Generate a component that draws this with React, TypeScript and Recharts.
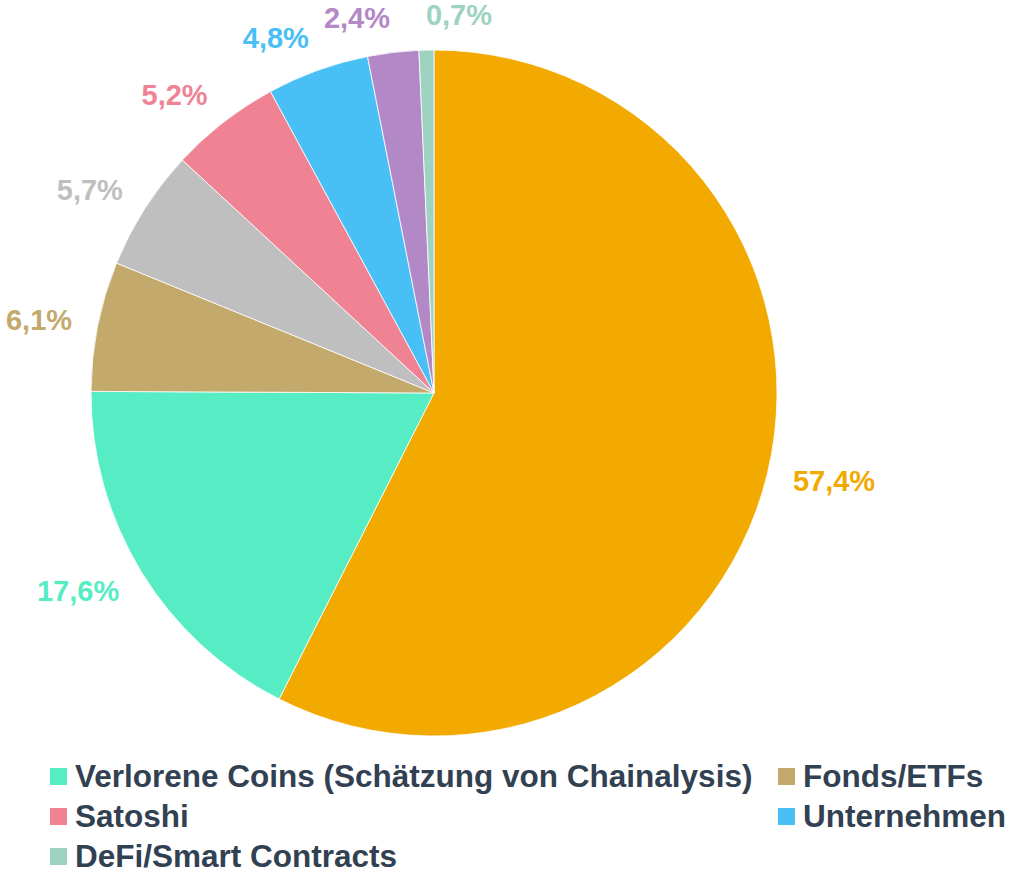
import React from "react";
import { PieChart, Pie, Cell, Legend } from "recharts";

// ---- data ----
const categories = [
  "Privatanleger",
  "Verlorene Coins (Schätzung von Chainalysis)",
  "Fonds/ETFs",
  "Börsen",
  "Satoshi",
  "Unternehmen",
  "Regierungen",
  "DeFi/Smart Contracts",
];
const shares = [57.4, 17.6, 6.1, 5.7, 5.2, 4.8, 2.4, 0.7];
const colors = ["#F2A900", "#56EDC5", "#C4A96C", "#BFBFBF", "#EF8394", "#49C0F5", "#B388C7", "#9ED3C1"];
const legendItems = [
  "Verlorene Coins (Schätzung von Chainalysis)",
  "Fonds/ETFs",
  "Satoshi",
  "Unternehmen",
  "DeFi/Smart Contracts",
];

const data = categories.map((name, i) => ({ name, value: shares[i] }));

const W = 1012;
const H = 873;
const CX = 434;
const CY = 393;
const R = 343;
const LABEL_FONT = 29;
const LABEL_OFFSET = 26;
const RAD = Math.PI / 180;

const fmt = (v: number) => v.toFixed(1).replace(".", ",") + "%";

const charW: Record<string, number> = { ",": 0.278, "%": 0.889 };
const textWidth = (s: string, size: number) =>
  s.split("").reduce((a, c) => a + (charW[c] ?? 0.556), 0) * size;

type LabelPos = { x: number; yCenter: number; anchor: "start" | "end"; w: number };

function layoutLabels(values: number[], cx: number, cy: number, r: number): LabelPos[] {
  const total = values.reduce((a, b) => a + b, 0);
  let acc = 0;
  const out: LabelPos[] = [];
  const boxes: { x0: number; x1: number; y0: number; y1: number }[] = [];
  const h = LABEL_FONT * 0.72;
  values.forEach((v) => {
    const mid = 90 - ((acc + v / 2) / total) * 360; // degrees, math convention
    acc += v;
    const dx = Math.cos(mid * RAD);
    const dy = -Math.sin(mid * RAD);
    const px = cx + (r + LABEL_OFFSET) * dx;
    const py = cy + (r + LABEL_OFFSET) * dy;
    const yCenter = py + 9 * dy;
    const w = textWidth(fmt(v), LABEL_FONT);
    const boxFor = (anchor: "start" | "end") => ({
      x0: anchor === "start" ? px : px - w,
      x1: anchor === "start" ? px + w : px,
      y0: yCenter - h / 2,
      y1: yCenter + h / 2,
    });
    const overlaps = (b: { x0: number; x1: number; y0: number; y1: number }) =>
      boxes.some((o) => b.x0 < o.x1 && b.x1 > o.x0 && b.y0 < o.y1 && b.y1 > o.y0);
    let anchor: "start" | "end" = dx >= 0 ? "start" : "end";
    if (overlaps(boxFor(anchor))) anchor = anchor === "start" ? "end" : "start";
    boxes.push(boxFor(anchor));
    out.push({ x: px, yCenter, anchor, w });
  });
  return out;
}

const renderLabel = (props: any) => {
  const { index, cx, cy, outerRadius } = props;
  const pos = layoutLabels(shares, cx, cy, outerRadius)[index];
  return (
    <text
      key={`lbl-${index}`}
      x={pos.x}
      y={pos.yCenter + LABEL_FONT * 0.358}
      textAnchor={pos.anchor}
      fill={colors[index]}
      style={{ fontFamily: "'Liberation Sans', Arial, sans-serif", fontWeight: 700, fontSize: LABEL_FONT }}
    >
      {fmt(shares[index])}
    </text>
  );
};

const LegendContent = () => (
  <div
    style={{
      display: "grid",
      gridTemplateColumns: "728px auto",
      fontFamily: "'Liberation Sans', Arial, sans-serif",
      fontWeight: 700,
      fontSize: 31.5,
      color: "#324152",
    }}
  >
    {legendItems.map((name) => {
      const i = categories.indexOf(name);
      return (
        <div key={name} style={{ display: "flex", alignItems: "center", height: 40, whiteSpace: "nowrap" }}>
          <span style={{ width: 17, height: 17, background: colors[i], marginRight: 8, flex: "none" }} />
          <span style={{ lineHeight: "40px" }}>{name}</span>
        </div>
      );
    })}
  </div>
);

export default function App() {
  return (
    <div style={{ position: "absolute", left: 0, top: 0, width: W, height: H, background: "#fff" }}>
      <PieChart width={W} height={H} margin={{ top: 0, right: 0, bottom: 0, left: 0 }}>
        <Pie
          data={data}
          dataKey="value"
          nameKey="name"
          cx={CX}
          cy={CY}
          outerRadius={R}
          startAngle={90}
          endAngle={-270}
          stroke="#ffffff"
          strokeWidth={0.8}
          label={renderLabel}
          labelLine={false}
          isAnimationActive={false}
        >
          {data.map((d, i) => (
            <Cell key={d.name} fill={colors[i]} />
          ))}
        </Pie>
        <Legend
          verticalAlign="bottom"
          content={<LegendContent />}
          wrapperStyle={{ position: "absolute", left: 50, top: 756, bottom: "auto", width: 962 }}
        />
      </PieChart>
    </div>
  );
}
